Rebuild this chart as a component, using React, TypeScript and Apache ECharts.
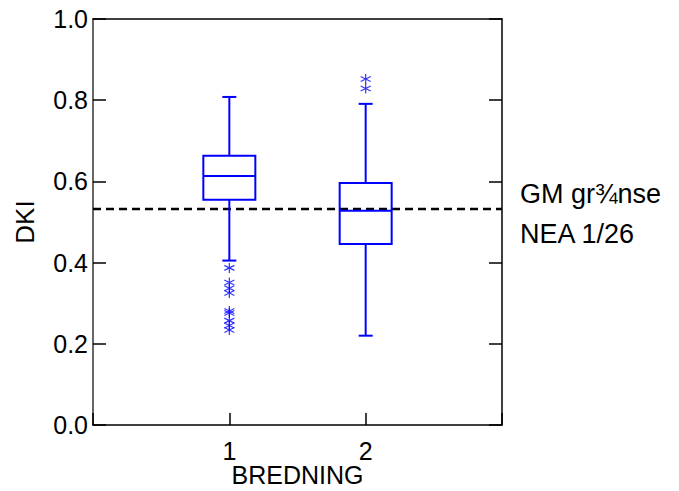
import React, { useEffect, useRef } from "react";
import * as echarts from "echarts";

const categories = [1, 2];
const whiskerLow = [0.405, 0.22];
const q1 = [0.555, 0.446];
const median = [0.613, 0.528];
const q3 = [0.663, 0.596];
const whiskerHigh = [0.808, 0.791];
const outliers1 = [0.387, 0.351, 0.337, 0.325, 0.281, 0.276, 0.257, 0.245, 0.234];
const outliers2 = [0.852, 0.829];
const gmLimit = 0.532;
const yTicks = [0, 0.2, 0.4, 0.6, 0.8, 1.0];
const annotation = ["GM gr¾nse", "NEA 1/26"];

const FONT = "'Liberation Sans', Arial, sans-serif";
const BLUE = "#0000ff";

export default function App() {
  const ref = useRef<HTMLDivElement>(null);
  useEffect(() => {
    if (!ref.current) return;
    const chart = echarts.init(ref.current, null, { renderer: "svg" });
    const boxData = categories.map((c, i) => [c, whiskerLow[i], q1[i], median[i], q3[i], whiskerHigh[i]]);
    const outlierData = [
      ...outliers1.map((v) => [categories[0], v]),
      ...outliers2.map((v) => [categories[1], v]),
    ];
    const star = "path://M0,-5L0,5M-4.33,-2.5L4.33,2.5M-4.33,2.5L4.33,-2.5";
    chart.setOption({
      animation: false,
      backgroundColor: "#ffffff",
      grid: {
        left: 93,
        right: 177,
        top: 19,
        bottom: 66,
        containLabel: false,
        outerBoundsMode: "none",
      },
      xAxis: [
        {
          type: "value",
          min: 0,
          max: 3,
          interval: 1,
          position: "bottom",
          name: "BREDNING",
          nameLocation: "middle",
          nameGap: 37,
          nameMoveOverlap: false,
          nameTextStyle: { fontFamily: FONT, fontSize: 25, color: "#000", lineHeight: 26 },
          axisLine: { show: true, lineStyle: { color: "#000", width: 1.5 } },
          axisTick: {
            show: true,
            inside: true,
            length: 12,
            lineStyle: { color: "#000", width: 1.5 },
          },
          axisLabel: {
            fontFamily: FONT,
            fontSize: 25,
            color: "#000",
            margin: 13,
            formatter: (v: number) => (categories.includes(v) ? String(v) : ""),
          },
          splitLine: { show: false },
        },
        {
          type: "value",
          min: 0,
          max: 3,
          interval: 1,
          position: "top",
          axisLine: { show: true, onZero: false, lineStyle: { color: "#000", width: 1.5 } },
          axisTick: { show: false },
          axisLabel: { show: false },
          splitLine: { show: false },
        },
      ],
      yAxis: [
        {
          type: "value",
          min: yTicks[0],
          max: yTicks[yTicks.length - 1],
          interval: 0.2,
          position: "left",
          name: "DKI",
          nameLocation: "middle",
          nameGap: 55,
          nameMoveOverlap: false,
          nameTextStyle: { fontFamily: FONT, fontSize: 26, color: "#000" },
          axisLine: { show: true, lineStyle: { color: "#333", width: 1.5 } },
          axisTick: { show: true, inside: true, length: 13, lineStyle: { color: "#000", width: 1.5 } },
          axisLabel: {
            fontFamily: FONT,
            fontSize: 25,
            color: "#000",
            margin: 5,
            formatter: (v: number) => v.toFixed(1),
          },
          splitLine: { show: false },
        },
        {
          type: "value",
          min: yTicks[0],
          max: yTicks[yTicks.length - 1],
          interval: 0.2,
          position: "right",
          axisLine: { show: true, onZero: false, lineStyle: { color: "#000", width: 1.5 } },
          axisTick: { show: true, inside: true, length: 13, lineStyle: { color: "#000", width: 1.5 } },
          axisLabel: { show: false },
          splitLine: { show: false },
        },
      ],
      series: [
        {
          type: "line",
          xAxisIndex: 0,
          yAxisIndex: 0,
          data: [
            [0, gmLimit],
            [3, gmLimit],
          ],
          symbol: "none",
          lineStyle: { color: "#000", width: 2.5, type: [8, 5] },
          z: 3,
        },
        {
          type: "custom",
          xAxisIndex: 0,
          yAxisIndex: 0,
          data: boxData,
          renderItem: (params: any, api: any) => {
            const x = api.value(0);
            const lo = api.coord([x, api.value(1)]);
            const b1 = api.coord([x, api.value(2)]);
            const md = api.coord([x, api.value(3)]);
            const b3 = api.coord([x, api.value(4)]);
            const hi = api.coord([x, api.value(5)]);
            const cx = lo[0];
            const hw = 26;
            const cw = 7;
            const st = { stroke: BLUE, lineWidth: 2, fill: "none" };
            return {
              type: "group",
              children: [
                { type: "line", shape: { x1: cx, y1: hi[1], x2: cx, y2: b3[1] }, style: st },
                { type: "line", shape: { x1: cx, y1: b1[1], x2: cx, y2: lo[1] }, style: st },
                { type: "line", shape: { x1: cx - cw, y1: hi[1], x2: cx + cw, y2: hi[1] }, style: st },
                { type: "line", shape: { x1: cx - cw, y1: lo[1], x2: cx + cw, y2: lo[1] }, style: st },
                {
                  type: "rect",
                  shape: { x: cx - hw, y: b3[1], width: hw * 2, height: b1[1] - b3[1] },
                  style: { stroke: BLUE, lineWidth: 2, fill: "none" },
                },
                { type: "line", shape: { x1: cx - hw, y1: md[1], x2: cx + hw, y2: md[1] }, style: st },
              ],
            };
          },
          z: 4,
        },
        {
          type: "scatter",
          xAxisIndex: 0,
          yAxisIndex: 0,
          data: outlierData,
          symbol: star,
          symbolSize: 10,
          itemStyle: { color: "none", borderColor: BLUE, borderWidth: 1.2 },
          z: 5,
        },
      ],
      graphic: [
        {
          type: "text",
          left: 520,
          top: 180,
          style: { text: annotation[0], font: `27px ${FONT}`, fill: "#000" },
        },
        {
          type: "text",
          left: 520,
          top: 220,
          style: { text: annotation[1], font: `27px ${FONT}`, fill: "#000" },
        },
      ],
    });
    return () => chart.dispose();
  }, []);
  return (
    <div
      ref={ref}
      style={{ position: "fixed", left: 0, top: 0, width: 679, height: 491, background: "#fff" }}
    />
  );
}
